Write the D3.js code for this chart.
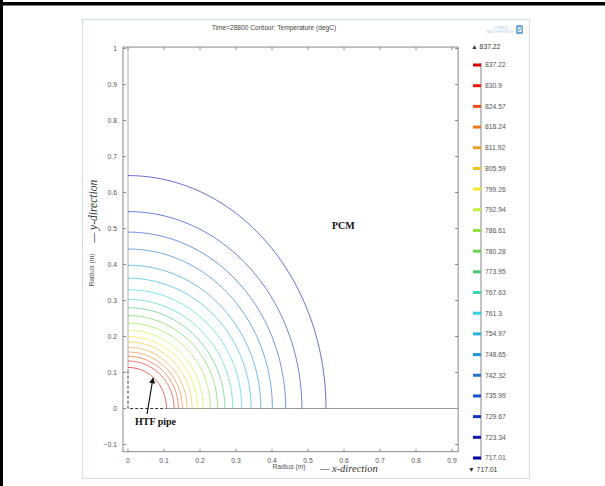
<!DOCTYPE html>
<html>
<head>
<meta charset="utf-8">
<script src="https://cdn.jsdelivr.net/npm/d3@7/dist/d3.min.js"></script>
<style>
  body { margin: 0; background: #fff; }
  text { font-family: "Liberation Sans", Arial, sans-serif; }
  .serif { font-family: "Liberation Serif", "Times New Roman", serif; }
</style>
</head>
<body>
<svg id="chart" width="605" height="486"></svg>
<script>
// Contour levels of the temperature field (degC), hottest first
const levels = [837.22, 830.9, 824.57, 818.24, 811.92, 805.59, 799.26, 792.94, 786.61, 780.28,
                773.95, 767.63, 761.3, 754.97, 748.65, 742.32, 735.99, 729.67, 723.34, 717.01];
const levelColors = ["#e00000", "#ec1a0a", "#f04a18", "#f07a20", "#f0a028", "#f0c41c", "#f0ec20", "#c8f03a",
                     "#8ee040", "#64d24a", "#44c870", "#38d8b0", "#30d4e4", "#22b4e4", "#1c94d8", "#2474cc",
                     "#1a54d0", "#1434c4", "#1016b4", "#0000a4"];
// Where each drawn contour (837.22 ... 723.34) crosses the r-axis (y = 0) and the symmetry axis (x = 0), in m
const contourRadiusX = [0.107, 0.128, 0.140, 0.151, 0.164, 0.178, 0.193, 0.209, 0.229, 0.249,
                        0.269, 0.291, 0.316, 0.342, 0.369, 0.401, 0.438, 0.483, 0.550];
const contourRadiusY = [0.114, 0.132, 0.145, 0.157, 0.170, 0.185, 0.200, 0.217, 0.237, 0.258,
                        0.280, 0.303, 0.330, 0.362, 0.398, 0.443, 0.490, 0.547, 0.647];
const xTicks = [0, 0.1, 0.2, 0.3, 0.4, 0.5, 0.6, 0.7, 0.8, 0.9];
const yTicks = [-0.1, 0, 0.1, 0.2, 0.3, 0.4, 0.5, 0.6, 0.7, 0.8, 0.9, 1];
const pipeRadius = 0.105;

const svg = d3.select("#chart");

// page frame
svg.append("rect").attr("x", 0).attr("y", 0).attr("width", 3).attr("height", 486).attr("fill", "#000");
svg.append("rect").attr("x", 0).attr("y", 2).attr("width", 605).attr("height", 3.5).attr("fill", "#000");

// graphics panel
svg.append("rect").attr("x", 82.5).attr("y", 19.5).attr("width", 447).attr("height", 459)
  .attr("fill", "#fff").attr("stroke", "#d4dde6").attr("stroke-width", 1.2);

// scales
const x = d3.scaleLinear().domain([0, 0.9]).range([128, 452]);
const y = d3.scaleLinear().domain([0, 1]).range([408.5, 48.5]);
const frame = { x0: x(-0.014), x1: x(0.917), y0: y(1.004), y1: y(-0.12) };

// title
svg.append("text").attr("x", 274).attr("y", 30).attr("text-anchor", "middle")
  .attr("font-size", 6.6).attr("fill", "#444")
  .text("Time=28800   Contour: Temperature (degC)");

// logo
const logo = svg.append("g");
logo.append("text").attr("x", 509).attr("y", 29).attr("text-anchor", "end").attr("font-size", 3.6)
  .attr("fill", "#a8c8e4").text("COMSOL");
logo.append("text").attr("x", 513).attr("y", 33).attr("text-anchor", "end").attr("font-size", 3.6)
  .attr("fill", "#a8c8e4").text("MULTIPHYSICS");
logo.append("rect").attr("x", 516).attr("y", 25).attr("width", 7).attr("height", 9).attr("rx", 1.5)
  .attr("fill", "#6aa4da");
logo.append("text").attr("x", 519.5).attr("y", 32).attr("text-anchor", "middle").attr("font-size", 7)
  .attr("fill", "#fff").attr("font-weight", "bold").text("S");

// axes frame
const plot = svg.append("g");
plot.append("rect").attr("x", frame.x0).attr("y", frame.y0)
  .attr("width", frame.x1 - frame.x0).attr("height", frame.y1 - frame.y0)
  .attr("fill", "none").attr("stroke", "#8a8a8a").attr("stroke-width", 1);

// ticks (inside the frame) and labels
const tk = 3;
xTicks.forEach(v => {
  plot.append("line").attr("x1", x(v)).attr("x2", x(v)).attr("y1", frame.y1).attr("y2", frame.y1 - tk)
    .attr("stroke", "#8a8a8a");
  plot.append("line").attr("x1", x(v)).attr("x2", x(v)).attr("y1", frame.y0).attr("y2", frame.y0 + tk)
    .attr("stroke", "#8a8a8a");
});
yTicks.forEach(v => {
  plot.append("line").attr("x1", frame.x0).attr("x2", frame.x0 + tk).attr("y1", y(v)).attr("y2", y(v))
    .attr("stroke", "#8a8a8a");
  plot.append("line").attr("x1", frame.x1).attr("x2", frame.x1 - tk).attr("y1", y(v)).attr("y2", y(v))
    .attr("stroke", "#8a8a8a");
});
plot.selectAll(".xt").data(xTicks).join("text")
  .attr("x", d => x(d)).attr("y", frame.y1 + 11).attr("text-anchor", "middle")
  .attr("font-size", 6.8).attr("fill", "#555").text(d => d3.format("")(d));
plot.selectAll(".yt").data(yTicks).join("text")
  .attr("x", frame.x0 - 6).attr("y", d => y(d) + 2.4).attr("text-anchor", "end")
  .attr("font-size", 6.8).attr("fill", "#555").text(d => d3.format("")(d));

// axis titles
svg.append("text").attr("x", 289).attr("y", 469).attr("text-anchor", "middle")
  .attr("font-size", 6.8).attr("fill", "#555").text("Radius (m)");
svg.append("text").attr("class", "serif").attr("x", 320).attr("y", 472)
  .attr("font-size", 10.5).attr("font-style", "italic").attr("fill", "#333").text("\u2014 x-direction");
svg.append("text").attr("transform", "translate(94,270) rotate(-90)").attr("text-anchor", "middle")
  .attr("font-size", 6.8).attr("fill", "#555").text("Radius (m)");
svg.append("text").attr("class", "serif").attr("transform", "translate(97,243) rotate(-90)")
  .attr("font-size", 11.5).attr("font-style", "italic").attr("fill", "#333").text("\u2014 y-direction");

// geometry boundaries
plot.append("line").attr("x1", x(0)).attr("x2", x(0)).attr("y1", y(pipeRadius)).attr("y2", y(1.004))
  .attr("stroke", "#9a9a9a").attr("stroke-width", 0.8);
plot.append("line").attr("x1", x(pipeRadius)).attr("x2", frame.x1).attr("y1", y(0)).attr("y2", y(0))
  .attr("stroke", "#9a9a9a").attr("stroke-width", 1);
// HTF pipe outline (dashed)
plot.append("path")
  .attr("d", `M${x(0)},${y(pipeRadius)} L${x(0)},${y(0)} L${x(pipeRadius)},${y(0)}`)
  .attr("fill", "none").attr("stroke", "#333").attr("stroke-width", 1).attr("stroke-dasharray", "3,2");

// contour lines (quarter curves through the axis crossings)
const arcPts = d3.range(0, 61).map(i => (i / 60) * Math.PI / 2);
const line = d3.line().x(d => x(d[0])).y(d => y(d[1])).curve(d3.curveLinear);
const contours = contourRadiusX.map((rx, i) => ({
  level: levels[i], color: levelColors[i],
  pts: arcPts.map(t => [rx * Math.cos(t), contourRadiusY[i] * Math.sin(t)])
}));
plot.selectAll(".contour").data(contours).join("path")
  .attr("class", "contour")
  .attr("d", d => line(d.pts))
  .attr("fill", "none")
  .attr("stroke", d => d.color)
  .attr("stroke-opacity", 0.62)
  .attr("stroke-width", 1);

// annotations
svg.append("text").attr("class", "serif").attr("x", 332).attr("y", 229)
  .attr("font-size", 10).attr("font-weight", "bold").attr("fill", "#111").text("PCM");
svg.append("text").attr("class", "serif").attr("x", 135).attr("y", 425)
  .attr("font-size", 10).attr("font-weight", "bold").attr("fill", "#111").text("HTF pipe");
svg.append("defs").append("marker").attr("id", "ah").attr("viewBox", "0 0 10 10")
  .attr("refX", 9).attr("refY", 5).attr("markerWidth", 5).attr("markerHeight", 5)
  .attr("orient", "auto").append("path").attr("d", "M0,0 L10,5 L0,10 z").attr("fill", "#111");
svg.append("line").attr("x1", 147).attr("y1", 414).attr("x2", 153).attr("y2", 378)
  .attr("stroke", "#111").attr("stroke-width", 1.2).attr("marker-end", "url(#ah)");

// legend
const leg = svg.append("g");
const ly = d3.scaleLinear().domain([0, levels.length - 1]).range([65, 458]);
leg.append("line").attr("x1", 481).attr("x2", 481).attr("y1", ly(0) - 2).attr("y2", ly(levels.length - 1) + 2)
  .attr("stroke", "#888").attr("stroke-width", 1);
leg.selectAll(".lb").data(levels).join("rect")
  .attr("x", 473).attr("y", (d, i) => ly(i) - 1.5).attr("width", 8).attr("height", 3)
  .attr("fill", (d, i) => levelColors[i]);
leg.selectAll(".lt").data(levels).join("text")
  .attr("x", 485).attr("y", (d, i) => ly(i) + 2.4)
  .attr("font-size", 6.8).attr("fill", "#555").text(d => d);
leg.append("text").attr("x", 471).attr("y", 49).attr("font-size", 6.8).attr("fill", "#333")
  .text("\u25B2 " + d3.max(levels));
leg.append("text").attr("x", 468).attr("y", 472).attr("font-size", 6.8).attr("fill", "#333")
  .text("\u25BC " + d3.min(levels));
</script>
</body>
</html>
